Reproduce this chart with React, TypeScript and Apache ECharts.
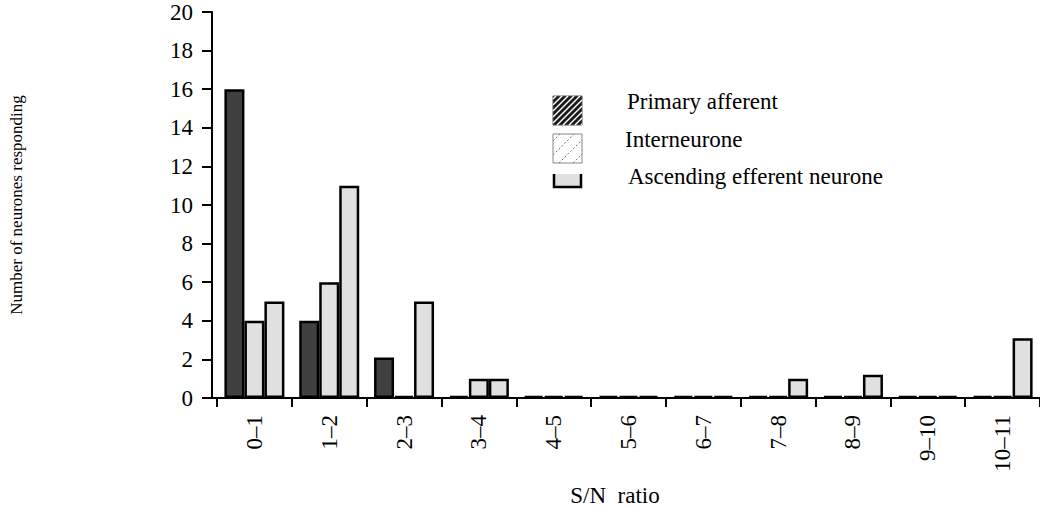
import React, { useEffect, useRef } from "react";
import * as echarts from "echarts";

const categories = ["0–1", "1–2", "2–3", "3–4", "4–5", "5–6", "6–7", "7–8", "8–9", "9–10", "10–11"];
const primaryAfferent = [16, 4, 2.1, 0, 0, 0, 0, 0, 0, 0, 0];
const interneurone = [4, 6, 0, 1, 0, 0, 0, 0, 0, 0, 0];
const ascendingEfferent = [5, 11, 5, 1, 0, 0, 0, 1, 1.2, 0, 3.1];
const seriesNames = ["Primary afferent", "Interneurone", "Ascending efferent neurone"];
const yTicks = { min: 0, max: 20, interval: 2 };

const FONT = "'Liberation Serif', 'DejaVu Serif', serif";

function hatchLines(x0: number, y0: number, s: number, step: number, style: any) {
  const out: any[] = [];
  for (let k = step / 2; k < 2 * s; k += step) {
    const ax = x0 + Math.max(0, k - s);
    const ay = y0 + Math.min(k, s);
    const bx = x0 + Math.min(k, s);
    const by = y0 + Math.max(0, k - s);
    out.push({ type: "line", shape: { x1: ax, y1: ay, x2: bx, y2: by }, style, silent: true });
  }
  return out;
}

export default function App() {
  const ref = useRef<HTMLDivElement>(null);
  useEffect(() => {
    if (!ref.current) return;
    const chart = echarts.init(ref.current, null, { renderer: "svg" });
    const barStyle = (color: string) => ({ color, borderColor: "#000", borderWidth: 2.5 });
    const s = 29;
    const graphic: any[] = [
      { type: "line", shape: { x1: 211, y1: 398, x2: 218, y2: 398 }, style: { stroke: "#000", lineWidth: 2 } },
      { type: "rect", shape: { x: 553, y: 96, width: s, height: s }, style: { fill: "#1a1a1a", stroke: "#555", lineWidth: 1 } },
      ...hatchLines(553, 96, s, 6, { stroke: "#ffffff", lineWidth: 1.5 }),
      { type: "rect", shape: { x: 553, y: 134, width: s, height: s }, style: { fill: "#ffffff", stroke: "#888", lineWidth: 1 } },
      ...hatchLines(553, 134, s, 14, { stroke: "#777", lineWidth: 1, lineDash: [2, 2] }),
      { type: "rect", shape: { x: 554, y: 174, width: 27, height: 12 }, style: { fill: "#e0e0e0" } },
      { type: "polyline", shape: { points: [[554, 174], [554, 187], [581, 187], [581, 174]] }, style: { stroke: "#000", lineWidth: 2.5, fill: null } },
      { type: "text", x: 627, y: 101, style: { text: seriesNames[0], font: `23px ${FONT}`, fill: "#000", verticalAlign: "middle" } },
      { type: "text", x: 625, y: 139, style: { text: seriesNames[1], font: `23px ${FONT}`, fill: "#000", verticalAlign: "middle" } },
      { type: "text", x: 628, y: 176, style: { text: seriesNames[2], font: `23px ${FONT}`, fill: "#000", verticalAlign: "middle" } },
      { type: "text", x: 615, y: 495, style: { text: "S/N  ratio", font: `23px ${FONT}`, fill: "#000", align: "center", verticalAlign: "middle" } },
      { type: "text", x: 16, y: 205, rotation: Math.PI / 2, style: { text: "Number of neurones responding", font: `17px ${FONT}`, fill: "#000", align: "center", verticalAlign: "middle" } },
    ];
    chart.setOption({
      animation: false,
      backgroundColor: "#fff",
      grid: { left: 217, right: -8, top: 12, bottom: 112, containLabel: false },
      xAxis: {
        type: "category",
        data: categories,
        boundaryGap: true,
        axisLine: { lineStyle: { color: "#000", width: 2 } },
        axisTick: { show: true, length: 9, lineStyle: { color: "#000", width: 2 }, alignWithLabel: false },
        axisLabel: { interval: 0, rotate: 90, margin: 17, color: "#000", fontSize: 23, fontFamily: FONT, padding: [0, 0, 14, 0] },
        splitLine: { show: false },
      },
      yAxis: {
        type: "value",
        min: yTicks.min,
        max: yTicks.max,
        interval: yTicks.interval,
        offset: 5,
        axisLine: { show: true, lineStyle: { color: "#000", width: 2 } },
        axisTick: { show: true, length: 10, lineStyle: { color: "#000", width: 2 } },
        axisLabel: { margin: 19, color: "#000", fontSize: 23, fontFamily: FONT },
        splitLine: { show: false },
      },
      series: [
        { name: seriesNames[0], type: "bar", data: primaryAfferent, barWidth: 20, barGap: "0%", barMinHeight: 2, itemStyle: barStyle("#404040") },
        { name: seriesNames[1], type: "bar", data: interneurone, barWidth: 20, barGap: "0%", barMinHeight: 2, itemStyle: barStyle("#e0e0e0") },
        { name: seriesNames[2], type: "bar", data: ascendingEfferent, barWidth: 20, barGap: "0%", barMinHeight: 2, itemStyle: barStyle("#e0e0e0") },
      ],
      graphic,
    });
    return () => chart.dispose();
  }, []);
  return <div ref={ref} style={{ position: "absolute", left: 0, top: 0, width: 1040, height: 510 }} />;
}
